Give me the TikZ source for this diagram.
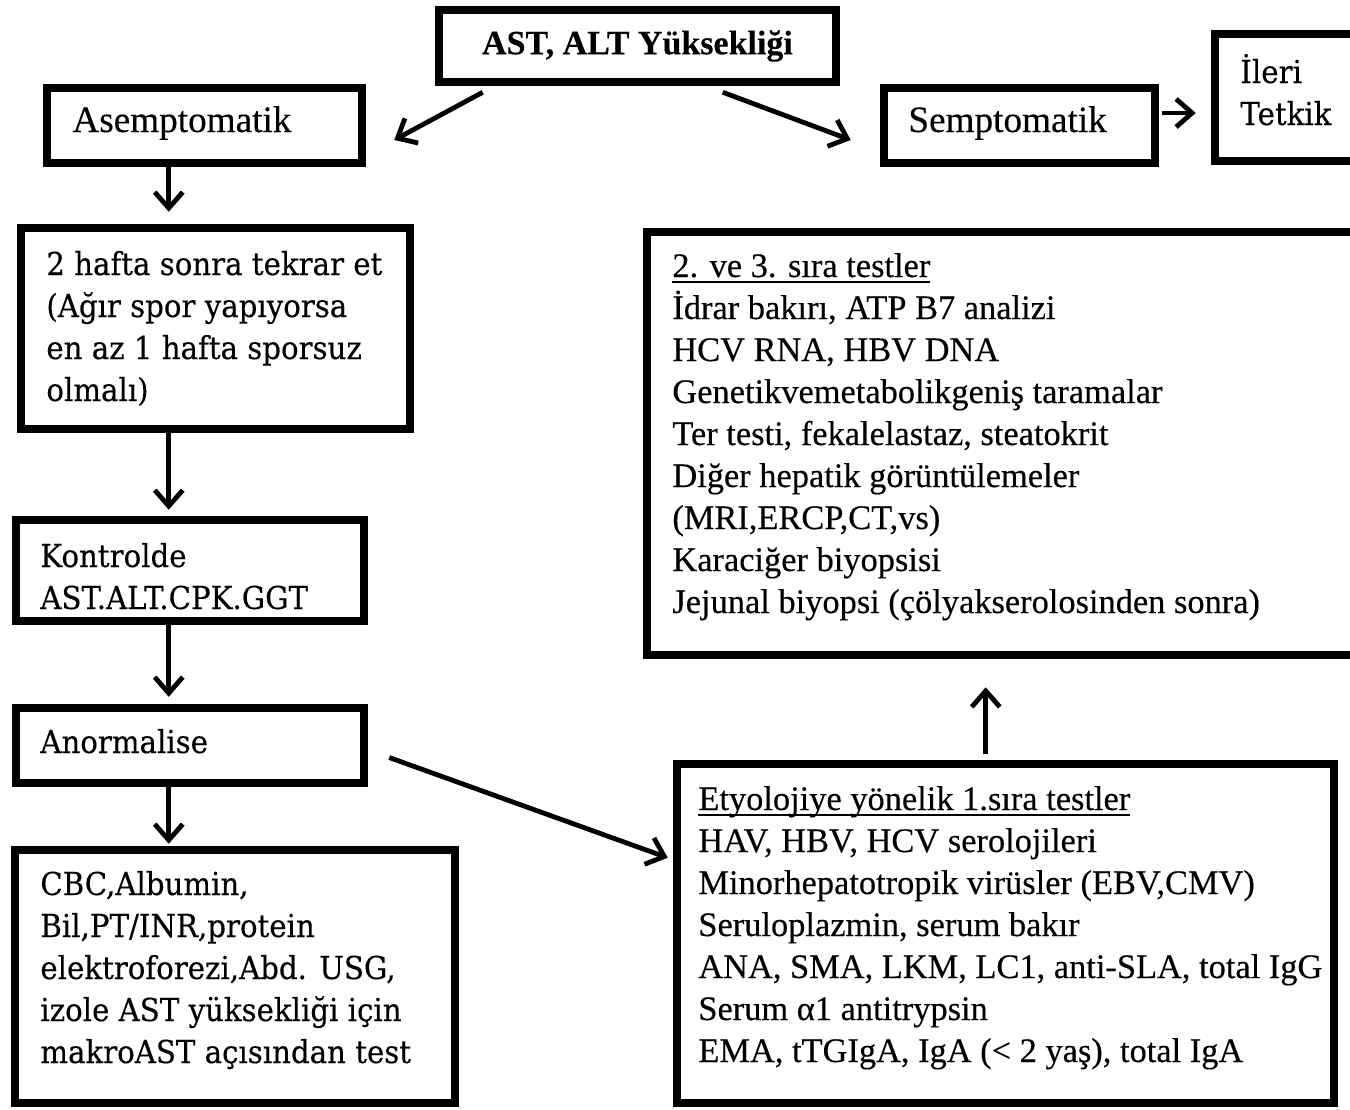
\documentclass[tikz,border=0pt]{standalone}
\usepackage{fontspec}
\setmainfont{Liberation Serif}[FakeBold=0.3]
\newfontfamily\slabfont[FakeStretch=0.925,FakeBold=0.3]{DejaVu Serif}
\usetikzlibrary{arrows.meta,calc,fit}
\newcommand\myul[1]{\setbox0\hbox{#1}\rlap{\rule[-2.8pt]{\wd0}{0.9pt}}\box0}
\newcommand\mylines[1]{\begin{tabular}[t]{@{}l@{}}#1\end{tabular}}
\tikzset{
  box/.style={draw, line width=4.25pt, inner sep=0pt, rectangle},
  arr/.style={line width=2.4pt, -{Straight Barb[length=8pt,width=14pt]}},
  rtxt/.style={inner sep=0pt, anchor=base west, font=\fontsize{17.2}{21}\selectfont},
  toptxt/.style={inner sep=0pt, anchor=base west, font=\fontsize{18.6}{21}\selectfont},
  ltxt/.style={inner sep=0pt, anchor=base west, font=\slabfont\fontsize{15.8}{21}\selectfont},
}
\begin{document}
\begin{tikzpicture}[x=0.5pt,y=-0.5pt]
\useasboundingbox (0,0) rectangle (1350,1109);
% boxes
\node[box, fit={(439,10) (836,82)}] (ast) {};
\node[box, fit={(47,88) (362,163)}] (asy) {};
\node[box, fit={(884,88) (1155,163)}] (sym) {};
\node[box, fit={(1215,34) (1370,161)}] (ileri) {};
\node[box, fit={(21,228) (410,429)}] (hafta) {};
\node[box, fit={(16,520) (364,621)}] (kont) {};
\node[box, fit={(16,708) (364,783)}] (anor) {};
\node[box, fit={(15,850) (455,1103)}] (cbc) {};
\node[box, fit={(677,764) (1334,1103)}] (ety) {};
\node[box, fit={(647,232) (1370,655)}] (sira) {};
% texts
\node[inner sep=0pt, font=\bfseries\fontsize{17}{21}\selectfont] (tast) at (ast.center) {AST, ALT Yüksekliği};
\node[toptxt] (tasy) at (72,132) {Asemptomatik};
\node[toptxt] (tsym) at (908,132) {Semptomatik};
\node[ltxt] (tileri) at (1240,83) {\mylines{İleri\\Tetkik}};
\node[ltxt] (thafta) at (46,275) {\mylines{2 hafta sonra tekrar et\\(Ağır spor yapıyorsa\\en az 1 hafta sporsuz\\olmalı)}};
\node[ltxt] (tkont) at (40,567) {\mylines{Kontrolde\\AST.ALT.CPK.GGT}};
\node[ltxt] (tanor) at (40,753) {Anormalise};
\node[ltxt] (tcbc) at (40,895) {\mylines{CBC,Albumin,\\Bil,PT/INR,protein\\elektroforezi,Abd. USG,\\izole AST yüksekliği için\\makroAST açısından test}};
\node[rtxt] (tsira) at (672,277) {\mylines{\myul{2. ve 3. sıra testler}\\İdrar bakırı, ATP B7 analizi\\HCV RNA, HBV DNA\\Genetikvemetabolikgeniş taramalar\\Ter testi, fekalelastaz, steatokrit\\Diğer hepatik görüntülemeler\\(MRI,ERCP,CT,vs)\\Karaciğer biyopsisi\\Jejunal biyopsi (çölyakserolosinden sonra)}};
\node[rtxt] (tety) at (698,810) {\mylines{\myul{Etyolojiye yönelik 1.sıra testler}\\HAV, HBV, HCV serolojileri\\Minorhepatotropik virüsler (EBV,CMV)\\Seruloplazmin, serum bakır\\ANA, SMA, LKM, LC1, anti-SLA, total IgG\\Serum α1 antitrypsin\\EMA, tTGIgA, IgA (< 2 yaş), total IgA}};
% arrows
\draw[arr] ($(ast.south west)+(48,6)$) -- ($(asy.east)+(28,14.5)$);
\draw[arr] ($(ast.south west)+(288,6)$) -- ($(sym.west)+(-29,14.5)$);
\draw[arr] ($(sym.east)+(3,-12.5)$) -- ($(ileri.west)+(-15,15.5)$);
\draw[arr] ($(asy.south west)+(126,0)$) -- ($(hafta.north west)+(152,-12)$);
\draw[arr] ($(hafta.south west)+(152,0)$) -- ($(kont.north west)+(157,-6)$);
\draw[arr] ($(kont.south west)+(157,0)$) -- ($(anor.north west)+(157,-7)$);
\draw[arr] ($(anor.south west)+(157,0)$) -- ($(cbc.north west)+(158,-2)$);
\draw[arr] ($(anor.east)+(21,12)$) -- ($(ety.north west)+(-5,98)$);
\draw[arr] ($(ety.north west)+(313,-6)$) -- ($(sira.south west)+(343,28)$);
\end{tikzpicture}
\end{document}
